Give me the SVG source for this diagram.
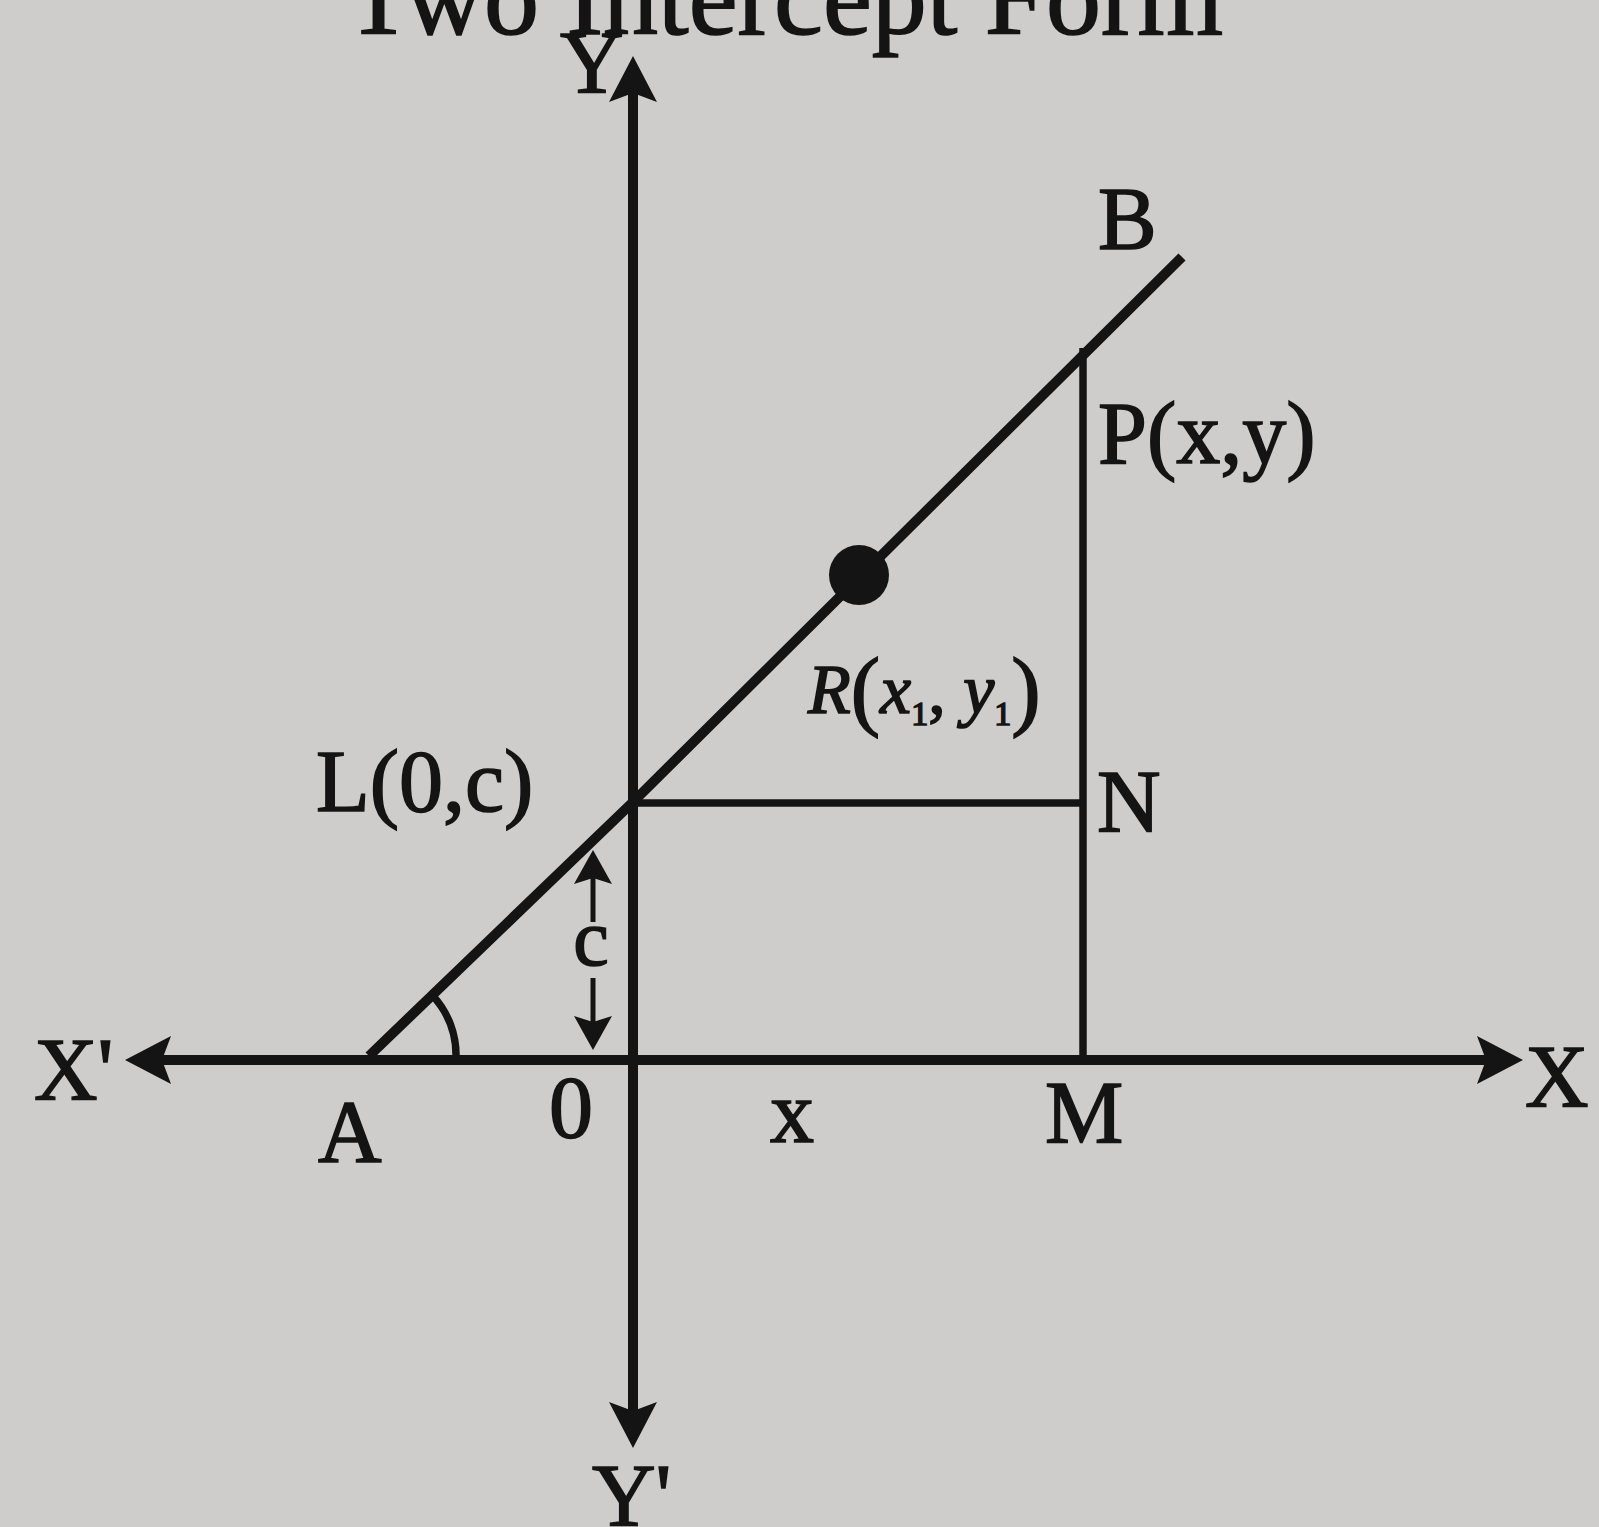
<svg xmlns="http://www.w3.org/2000/svg" width="1599" height="1527" viewBox="0 0 1599 1527">
<style>
.t{font-family:"Liberation Serif","Times New Roman",serif;fill:#141414;stroke:#141414;stroke-width:1.6;}
.lab{font-size:88px;}
.ax{stroke:#141414;stroke-width:10;fill:none;}
.ln{stroke:#141414;stroke-width:10;fill:none;stroke-linejoin:round;}
.thin{stroke:#141414;stroke-width:7.5;fill:none;}
.sm{stroke:#141414;stroke-width:5;fill:none;}
</style>
<defs>
<marker id="big" markerUnits="userSpaceOnUse" viewBox="0 0 46 50" markerWidth="46" markerHeight="50" refX="14" refY="25" orient="auto-start-reverse">
<path d="M0,1 L46,25 L0,49 L9,25 Z" fill="#141414"/>
</marker>
<marker id="small" markerUnits="userSpaceOnUse" viewBox="0 0 34 40" markerWidth="34" markerHeight="40" refX="6" refY="20" orient="auto">
<path d="M0,1 L34,20 L0,39 L6,20 Z" fill="#141414"/>
</marker>
</defs>
<rect width="1599" height="1527" fill="#cfcdcb"/>
<text class="t" x="345" y="34" font-size="110" stroke-width="2.5">Two Intercept Form</text>
<g id="connectors">
<line class="ax" x1="157" y1="1060" x2="1491" y2="1060" marker-start="url(#big)" marker-end="url(#big)"/>
<line class="ax" x1="633" y1="88" x2="633" y2="1416" marker-start="url(#big)" marker-end="url(#big)"/>
<polyline class="ln" points="369,1056 633,802 1182,257"/>
<line class="thin" x1="1083" y1="348" x2="1083" y2="1060"/>
<line class="thin" x1="633" y1="803" x2="1083" y2="803"/>
<path class="thin" d="M456,1058 A88,88 0 0 0 433,996"/>
<line class="sm" x1="593" y1="922" x2="593" y2="878" marker-end="url(#small)"/>
<line class="sm" x1="593" y1="978" x2="593" y2="1022" marker-end="url(#small)"/>
</g>
<g id="node-R-point"><circle cx="859" cy="575" r="30" fill="#141414"/></g>
<g id="label-Y"><text class="t lab" x="560" y="92">Y</text></g>
<g id="label-Yp"><text class="t lab" x="592" y="1525">Y'</text></g>
<g id="label-X"><text class="t lab" x="1525" y="1106">X</text></g>
<g id="label-Xp"><text class="t lab" x="34" y="1099">X'</text></g>
<g id="label-B"><text class="t lab" x="1098" y="248">B</text></g>
<g id="label-P"><text class="t lab" x="1098" y="463">P(x,y)</text></g>
<g id="label-L"><text class="t lab" x="316" y="811">L(0,c)</text></g>
<g id="label-N"><text class="t lab" x="1097" y="831">N</text></g>
<g id="label-A"><text class="t lab" x="318" y="1161">A</text></g>
<g id="label-O"><text class="t lab" x="549" y="1137">0</text></g>
<g id="label-x"><text class="t lab" x="770" y="1142">x</text></g>
<g id="label-M"><text class="t lab" x="1045" y="1142">M</text></g>
<g id="label-c"><text class="t" x="591" y="965" font-size="80" text-anchor="middle">c</text></g>
<g id="label-R"><text class="t" x="808" y="713" font-size="70" stroke-width="1"><tspan font-style="italic">R</tspan><tspan font-size="88" dy="6">(</tspan><tspan font-style="italic" dy="-6">x</tspan><tspan font-size="34" dy="12">1</tspan><tspan dy="-12">, </tspan><tspan font-style="italic">y</tspan><tspan font-size="34" dy="12">1</tspan><tspan font-size="88" dy="-6">)</tspan></text></g>
</svg>
